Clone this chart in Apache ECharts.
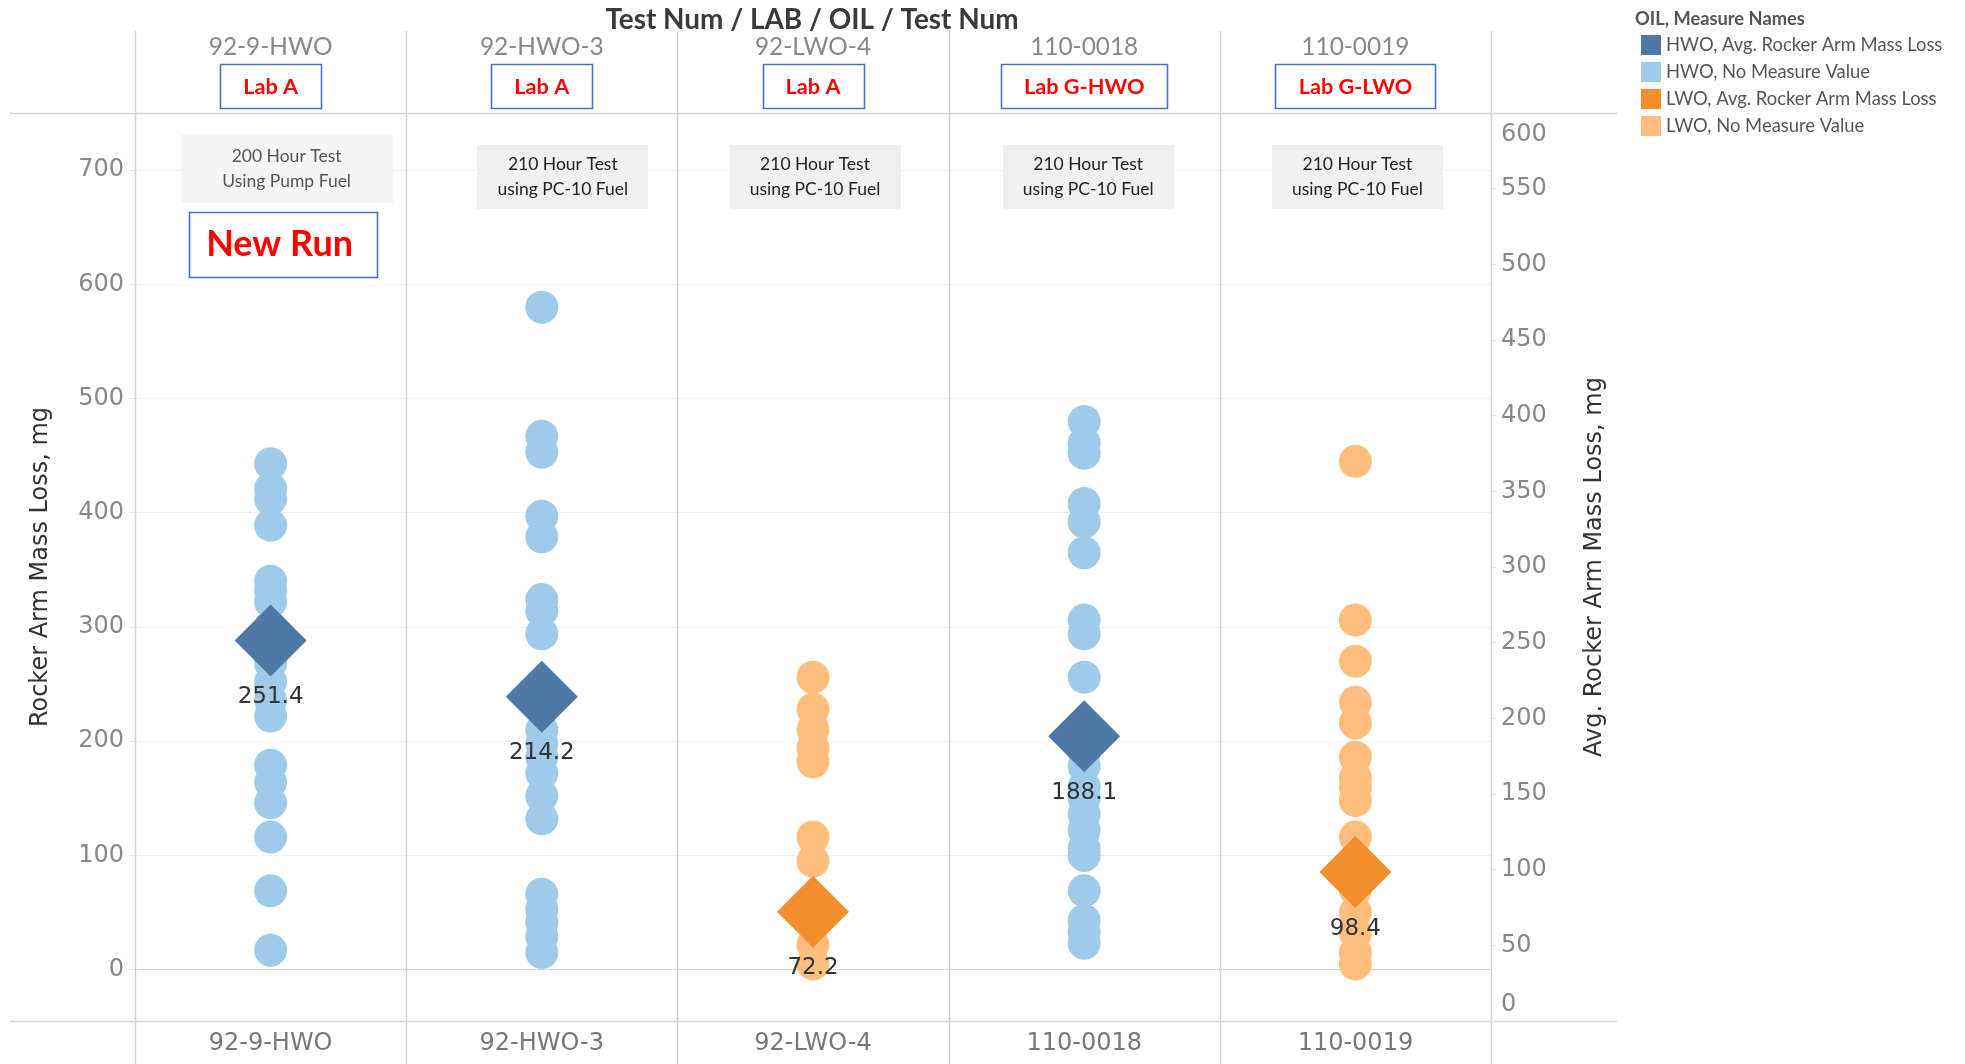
<!DOCTYPE html>
<html><head><meta charset="utf-8">
<script src="https://cdn.jsdelivr.net/npm/echarts@6/dist/echarts.min.js"></script>
<style>html,body{margin:0;padding:0;background:#fff}#c{width:1965px;height:1064px}</style>
</head><body><div id="c"></div>
<script>
// ---------------- data ----------------
const tests = ['92-9-HWO', '92-HWO-3', '92-LWO-4', '110-0018', '110-0019'];
const labs = ['Lab A', 'Lab A', 'Lab A', 'Lab G-HWO', 'Lab G-LWO'];
const oils = ['HWO', 'HWO', 'LWO', 'HWO', 'LWO'];
const notes = [
  ['200 Hour Test', 'Using Pump Fuel'],
  ['210 Hour Test', 'using PC-10 Fuel'],
  ['210 Hour Test', 'using PC-10 Fuel'],
  ['210 Hour Test', 'using PC-10 Fuel'],
  ['210 Hour Test', 'using PC-10 Fuel']
];
const newRunText = 'New Run';
const titleText = 'Test Num / LAB / OIL / Test Num';
const legendTitle = 'OIL, Measure Names';
const avgLoss = [251.4, 214.2, 72.2, 188.1, 98.4];
const loss_92_9_HWO = [443, 421, 412, 389, 340, 332, 322, 300, 282, 268, 252, 236, 222, 179, 164, 146, 116, 69, 17];
const loss_92_HWO_3 = [580, 467, 453, 397, 379, 324, 314, 294, 228, 210, 198, 186, 172, 152, 132, 66, 53, 41, 29, 15];
const loss_92_LWO_4 = [256, 228, 210, 194, 182, 116, 95, 60, 40, 22, 5];
const loss_110_0018 = [480, 461, 452, 408, 392, 365, 306, 294, 256, 200, 190, 178, 160, 150, 136, 122, 106, 100, 69, 43, 33, 23];
const loss_110_0019 = [445, 306, 270, 234, 216, 186, 168, 160, 148, 116, 90, 70, 50, 32, 15, 5];
const lossByTest = [loss_92_9_HWO, loss_92_HWO_3, loss_92_LWO_4, loss_110_0018, loss_110_0019];
const leftTicks = [0, 100, 200, 300, 400, 500, 600, 700];
const seriesNames = ['HWO, Avg. Rocker Arm Mass Loss', 'HWO, No Measure Value', 'LWO, Avg. Rocker Arm Mass Loss', 'LWO, No Measure Value'];

// ---------------- layout / style ----------------
const W = 1965, H = 1064;
const G = { left: 135, right: 474, top: 113, bottom: 43 };
const C = { hwoAvg: '#4e79a7', hwoNo: '#a0cbe8', lwoAvg: '#f28e2b', lwoNo: '#ffbe7d' };
const CAL = "Lato, 'Open Sans', sans-serif";
const WIDE = "'DejaVu Sans', Verdana, sans-serif";
const noteDx = [16, 21, 2, 4, 2];

const mctx = document.createElement('canvas').getContext('2d');
function textW(str, font) { mctx.font = font; return mctx.measureText(str).width; }
// font size so that a text reaches a given width
function fitSize(str, weight, family, target) {
  const w = textW(str, weight + ' 100px ' + family);
  return Math.round(100 * target / w * 10) / 10;
}
const fsTitle = fitSize(titleText, 'bold', CAL, 413);
const fsHead = fitSize(tests[0], 'normal', CAL, 124);
const fsLegend = fitSize(seriesNames[0], 'normal', CAL, 276);
const fsLegendTitle = fitSize(legendTitle, 'bold', CAL, 170);
const fsLab = fitSize(labs[0], 'bold', CAL, 55);
const fsNote = fitSize(notes[1][1], 'normal', CAL, 131);
const fsNewRun = fitSize(newRunText, 'bold', CAL, 147);

function circles(oil) {
  const d = [];
  tests.forEach((t, i) => { if (oils[i] === oil) lossByTest[i].forEach(v => d.push([t, v])); });
  return d;
}
function avgs(oil) {
  const d = [];
  tests.forEach((t, i) => { if (oils[i] === oil) d.push([t, avgLoss[i]]); });
  return d;
}

const chart = echarts.init(document.getElementById('c'), null, { renderer: 'canvas', width: W, height: H });

const avgLabel = {
  show: true, position: 'bottom', distance: 9,
  formatter: p => p.value[1].toFixed(1),
  color: '#333', fontSize: 23, fontFamily: WIDE
};

const option = {
  animation: false,
  backgroundColor: '#fff',
  grid: { left: G.left, right: G.right, top: G.top, bottom: G.bottom, containLabel: false, outerBoundsMode: 'none' },
  legend: {
    data: seriesNames,
    orient: 'vertical', left: 1636, top: 30,
    itemWidth: 20, itemHeight: 20, itemGap: 7, icon: 'rect',
    textStyle: { fontSize: fsLegend, color: '#555', fontFamily: CAL },
    selectedMode: false
  },
  xAxis: [
    {
      type: 'category', data: tests, position: 'bottom',
      axisLine: { show: false }, axisTick: { show: false },
      axisLabel: { color: '#777', fontSize: 24, fontFamily: WIDE, margin: 11 },
      splitLine: { show: false }
    },
    {
      type: 'category', data: tests, position: 'top',
      axisLine: { show: false }, axisTick: { show: false },
      axisLabel: { color: '#888', fontSize: fsHead, fontFamily: CAL, margin: 54 },
      splitLine: { show: false }
    }
  ],
  yAxis: [
    {
      type: 'value', position: 'left', min: -45, max: 750,
      name: 'Rocker Arm Mass Loss, mg', nameLocation: 'middle', nameGap: 82, nameRotate: 90,
      nameTextStyle: { color: '#333', fontSize: 24, fontFamily: WIDE },
      axisLine: { show: false },
      axisTick: { show: true, length: 5, customValues: leftTicks, lineStyle: { color: '#e2e2e2' } },
      axisLabel: { customValues: leftTicks, color: '#888', fontSize: 24, fontFamily: WIDE, margin: 11 },
      splitLine: { show: true, lineStyle: { color: '#f0f0f0', width: 1 } }
    },
    {
      type: 'value', position: 'right', min: 0, max: 600, interval: 50,
      name: 'Avg. Rocker Arm Mass Loss, mg', nameLocation: 'middle', nameGap: 92, nameRotate: 90,
      nameTextStyle: { color: '#333', fontSize: 24, fontFamily: WIDE },
      axisLine: { show: false },
      axisTick: { show: true, length: 5, lineStyle: { color: '#e2e2e2' } },
      axisLabel: {
        color: '#888', fontSize: 24, fontFamily: WIDE, margin: 10,
        verticalAlignMinLabel: 'bottom', verticalAlignMaxLabel: 'top',
        formatter: v => v === 600 ? '{mx|' + v + '}' : (v === 0 ? '{mn|' + v + '}' : String(v)),
        rich: {
          mx: { color: '#888', fontSize: 24, fontFamily: WIDE, padding: [10, 0, 0, 0] },
          mn: { color: '#888', fontSize: 24, fontFamily: WIDE, padding: [0, 0, 4, 0] }
        }
      },
      splitLine: { show: false }
    }
  ],
  series: [
    {
      name: seriesNames[1], type: 'scatter', xAxisIndex: 0, yAxisIndex: 0,
      symbol: 'circle', symbolSize: 33, itemStyle: { color: C.hwoNo, opacity: 1 },
      data: circles('HWO'), z: 2,
      markLine: {
        silent: true, symbol: 'none', label: { show: false },
        lineStyle: { color: '#bbb', type: 'dotted', width: 1 },
        data: [{ yAxis: 0 }], z: 1
      }
    },
    {
      name: seriesNames[3], type: 'scatter', xAxisIndex: 0, yAxisIndex: 0,
      symbol: 'circle', symbolSize: 33, itemStyle: { color: C.lwoNo, opacity: 1 },
      data: circles('LWO'), z: 2
    },
    {
      name: seriesNames[0], type: 'scatter', xAxisIndex: 0, yAxisIndex: 1,
      symbol: 'diamond', symbolSize: [72, 72], itemStyle: { color: C.hwoAvg, opacity: 1 },
      data: avgs('HWO'), z: 4, label: avgLabel
    },
    {
      name: seriesNames[2], type: 'scatter', xAxisIndex: 0, yAxisIndex: 1,
      symbol: 'diamond', symbolSize: [72, 72], itemStyle: { color: C.lwoAvg, opacity: 1 },
      data: avgs('LWO'), z: 4, label: avgLabel
    }
  ]
};
chart.setOption(option);

// ---------------- decorations (header, boxes, separators) ----------------
const xs = tests.map(t => chart.convertToPixel({ xAxisIndex: 0 }, t));
const gx0 = G.left, gx1 = W - G.right, gy0 = G.top, gy1 = H - G.bottom;
const band = (gx1 - gx0) / tests.length;
const gfx = [];
const lineCol = '#d3d3d3';

[gy0, gy1].forEach(y => gfx.push({ type: 'line', silent: true, z: 0,
  shape: { x1: 10, y1: Math.round(y) + 0.5, x2: 1617, y2: Math.round(y) + 0.5 },
  style: { stroke: lineCol, lineWidth: 1.5 } }));
for (let i = 0; i <= tests.length; i++) {
  const x = Math.round(gx0 + i * band) + 0.5;
  gfx.push({ type: 'line', silent: true, z: 0,
    shape: { x1: x, y1: 31, x2: x, y2: H },
    style: { stroke: lineCol, lineWidth: 1.5 } });
}
gfx.push({ type: 'text', x: 812, y: 20, z: 10,
  style: { text: titleText, font: 'bold ' + fsTitle + 'px ' + CAL, fill: '#3a3a3a',
    textAlign: 'center', textVerticalAlign: 'middle' } });
gfx.push({ type: 'text', x: 1635, y: 19, z: 10,
  style: { text: legendTitle, font: 'bold ' + fsLegendTitle + 'px ' + CAL, fill: '#555',
    textAlign: 'left', textVerticalAlign: 'middle' } });

const labFont = 'bold ' + fsLab + 'px ' + CAL;
labs.forEach((lab, i) => {
  const w = Math.round(textW(lab, labFont) + 46);
  const cx = xs[i];
  gfx.push({ type: 'rect', z: 10, shape: { x: Math.round(cx - w / 2) + 0.5, y: 64.5, width: w, height: 44 },
    style: { fill: '#fff', stroke: '#4472c4', lineWidth: 1.6 } });
  gfx.push({ type: 'text', z: 11, x: cx, y: 87,
    style: { text: lab, font: labFont, fill: '#ff0000', textAlign: 'center', textVerticalAlign: 'middle' } });
});

const noteFont = fsNote + 'px ' + CAL;
notes.forEach((n, i) => {
  const first = i === 0;
  const w = first ? 212 : 171, h = first ? 68 : 64;
  const cx = xs[i] + noteDx[i], cy = first ? 169 : 177;
  gfx.push({ type: 'rect', z: 10, shape: { x: Math.round(cx - w / 2), y: Math.round(cy - h / 2), width: w, height: h },
    style: { fill: first ? '#f5f5f5' : '#f0f0f0' } });
  gfx.push({ type: 'text', z: 11, x: cx, y: cy,
    style: { text: n.join('\n'), font: noteFont, fill: first ? '#555' : '#222', lineHeight: 25,
      textAlign: 'center', textVerticalAlign: 'middle' } });
});

{
  const cx = xs[0] + 12, cy = 244.5, w = 188, h = 65;
  gfx.push({ type: 'rect', z: 10, shape: { x: Math.round(cx - w / 2) + 0.5, y: Math.round(cy - h / 2) + 0.5, width: w, height: h },
    style: { fill: '#fff', stroke: '#4472c4', lineWidth: 1.6 } });
  gfx.push({ type: 'text', z: 11, x: cx - 3, y: cy,
    style: { text: newRunText, font: 'bold ' + fsNewRun + 'px ' + CAL, fill: '#ff0000', textAlign: 'center', textVerticalAlign: 'middle' } });
}

chart.setOption({ graphic: gfx });
</script>
</body></html>
